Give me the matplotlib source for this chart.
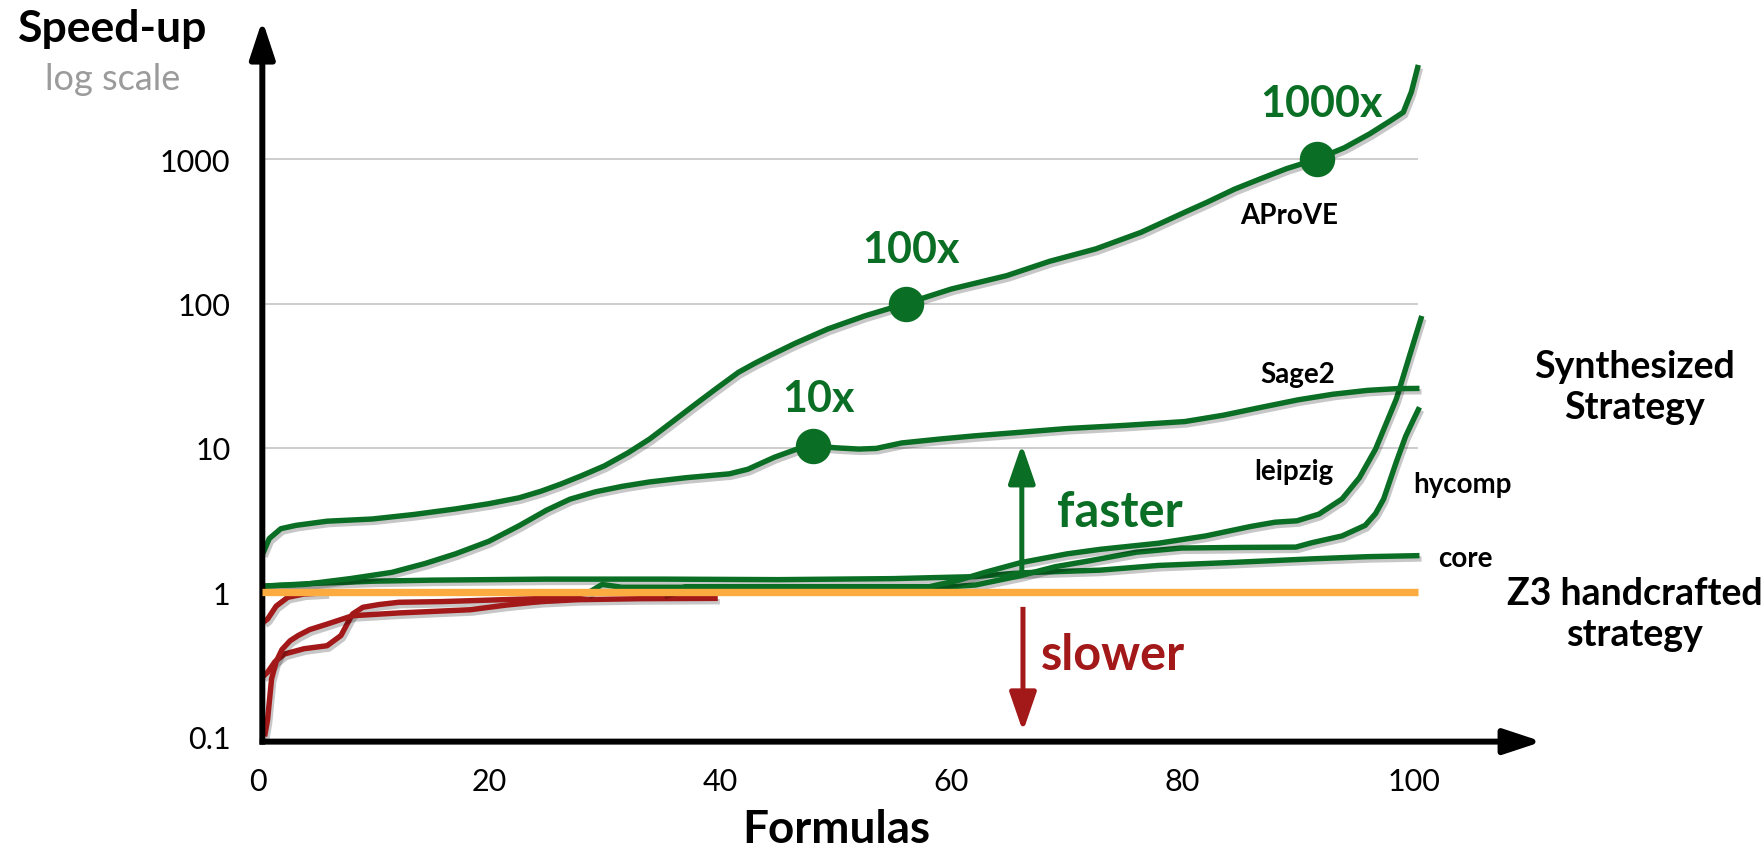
import matplotlib
matplotlib.use("Agg")
import matplotlib.pyplot as plt
import matplotlib.patheffects as pe
from matplotlib.ticker import NullLocator

# ---------------- data ----------------
aprove_x = [0.45, 1.0, 2.0, 3.3, 6.0, 9.9, 13.5, 17.1, 20.0, 22.6, 24.5, 26.2, 28.0, 30.0, 32.0,
            33.9, 35.8, 37.7, 39.6, 41.6, 43.0, 44.3, 46.5, 49.3, 52.5, 56.1, 60.0, 64.8, 68.5,
            72.5, 76.4, 80.2, 82.1, 84.5, 86.7, 89.0, 91.6, 94.0, 96.2, 98.0, 99.1, 99.8, 100.4]
aprove_y = [1.85, 2.35, 2.75, 2.9, 3.1, 3.21, 3.45, 3.77, 4.1, 4.5, 5.0, 5.6, 6.4, 7.5, 9.2,
            11.5, 15.0, 19.6, 25.5, 33.4, 38.5, 43.5, 53.0, 66.5, 82.0, 100.0, 126.0, 156.0, 196.0,
            239.0, 311.0, 429.0, 502.0, 620.0, 729.0, 860.0, 1000.0, 1200.0, 1500.0, 1850.0,
            2115.0, 2930.0, 4500.0]

sage2_x = [0.45, 4.0, 8.0, 11.6, 14.5, 17.1, 20.0, 22.6, 25.0, 27.0, 29.2, 31.5, 33.9, 37.0,
           40.8, 42.4, 44.7, 46.5, 48.0, 50.0, 52.0, 53.5, 55.7, 59.0, 62.0, 65.9, 70.0, 75.0,
           80.2, 83.5, 86.7, 90.0, 93.0, 96.0, 98.5, 100.5]
sage2_y = [1.1, 1.13, 1.24, 1.37, 1.58, 1.84, 2.25, 2.88, 3.7, 4.4, 4.95, 5.4, 5.8, 6.2,
           6.6, 7.1, 8.6, 9.7, 10.3, 10.0, 9.8, 9.9, 10.8, 11.5, 12.1, 12.8, 13.6, 14.3,
           15.2, 16.8, 19.0, 21.5, 23.5, 25.0, 25.7, 25.8]

leipzig_x = [28.5, 29.8, 31.5, 34.4, 40.0, 45.0, 50.0, 55.7, 58.1, 60.5, 62.9, 66.0, 70.0, 72.9,
             77.9, 82.0, 85.9, 88.0, 89.9, 91.8, 93.8, 95.3, 96.7, 98.5, 99.7, 100.7]
leipzig_y = [0.98, 1.13, 1.08, 1.08, 1.08, 1.08, 1.08, 1.08, 1.09, 1.2, 1.37, 1.6, 1.84, 1.98,
             2.18, 2.45, 2.85, 3.05, 3.12, 3.47, 4.42, 6.2, 9.8, 21.8, 45.0, 82.0]

hycomp_x = [35.0, 37.0, 45.0, 55.0, 60.0, 62.1, 66.0, 69.0, 72.0, 76.0, 79.9, 85.0, 89.8, 91.2,
            93.8, 95.8, 96.7, 97.4, 98.5, 99.3, 100.0, 100.5]
hycomp_y = [0.98, 1.09, 1.09, 1.09, 1.09, 1.12, 1.3, 1.5, 1.65, 1.89, 2.02, 2.04, 2.05, 2.2,
            2.45, 2.9, 3.5, 4.42, 8.0, 12.0, 15.8, 19.1]

core_x = [0.45, 5.0, 10.0, 15.0, 25.0, 35.0, 45.0, 55.0, 62.0, 66.0, 72.9, 77.9, 83.9, 91.2, 96.0, 100.5]
core_y = [1.1, 1.15, 1.19, 1.21, 1.23, 1.23, 1.22, 1.24, 1.28, 1.36, 1.42, 1.53, 1.6, 1.7, 1.76, 1.79]

slowA_x = [0.45, 0.85, 1.5, 2.3, 4.0, 6.0, 7.2, 8.2, 9.1, 10.5, 12.2, 16.0, 20.0, 24.0, 26.5, 28.5]
slowA_y = [0.26, 0.278, 0.33, 0.372, 0.405, 0.425, 0.5, 0.705, 0.785, 0.82, 0.85, 0.86, 0.88, 0.9, 0.93, 0.98]
slowB_x = [0.6, 0.85, 1.2, 1.6, 2.1, 2.8, 3.5, 4.5, 6.0, 8.2, 12.2, 18.4, 21.5, 24.5, 27.7, 33.0, 39.8]
slowB_y = [0.1, 0.13, 0.25, 0.33, 0.40, 0.46, 0.5, 0.55, 0.6, 0.686, 0.717, 0.755, 0.813, 0.86, 0.886, 0.9, 0.905]
slowC_x = [0.5, 0.85, 1.6, 2.6, 4.0, 6.0]
slowC_y = [0.62, 0.65, 0.8, 0.92, 0.97, 0.99]

milestone_x = [48.0, 56.1, 91.6]
milestone_y = [10.3, 100.0, 1000.0]
milestone_labels = ["10x", "100x", "1000x"]

ytick_vals = [0.1, 1, 10, 100, 1000]
ytick_labels = ["0.1", "1", "10", "100", "1000"]
xtick_vals = [0, 20, 40, 60, 80, 100]
xtick_labels = ["0", "20", "40", "60", "80", "100"]
grid_vals = [10, 100, 1000]
baseline_value = 1

# ---------------- style ----------------
GREEN = "#0a6e24"
RED = "#a31818"
ORANGE = "#fbab3f"
GRAY = "#9b9b9b"
plt.rcParams["font.family"] = ["Lato", "DejaVu Sans"]

W, H, DPI = 1764, 853, 100
fig = plt.figure(figsize=(W / DPI, H / DPI), dpi=DPI)
L, R, T, B = 150, 1600, 5, 790          # axes box in pixels
X0, XS = 257.7, 11.56                    # pixel of x=0, pixels per unit
Y1, YS = 593.1, 144.3                    # pixel of y=1, pixels per decade
ax = fig.add_axes([L / W, 1 - B / H, (R - L) / W, (B - T) / H])
ax.set_yscale("log")
ax.set_xlim((L - X0) / XS, (R - X0) / XS)
ax.set_ylim(10 ** ((Y1 - B) / YS), 10 ** ((Y1 - T) / YS))
ax.patch.set_alpha(0)

for s in ax.spines.values():
    s.set_visible(False)
ax.spines["left"].set_position(("data", 0.4))
ax.spines["bottom"].set_position(("data", 0.092))

ax.set_yticks(ytick_vals, labels=ytick_labels)
ax.yaxis.set_minor_locator(NullLocator())
ax.set_xticks(xtick_vals, labels=xtick_labels)
ax.tick_params(axis="y", length=0, pad=23, labelsize=22)
ax.tick_params(axis="x", length=0, pad=18, labelsize=22)

# grid lines
ax.hlines(grid_vals, 0.4, 100.4, color="#cdcdcd", lw=1.4, zorder=1)

shadow = [pe.SimpleLineShadow(offset=(1.5, -2.4), shadow_color="black", alpha=0.22), pe.Normal()]
lw = 3.9
for xs, ys in [(slowA_x, slowA_y), (slowB_x, slowB_y), (slowC_x, slowC_y)]:
    ax.plot(xs, ys, color=RED, lw=lw, solid_capstyle="butt", solid_joinstyle="round",
            path_effects=shadow, zorder=2)
for xs, ys in [(core_x, core_y), (hycomp_x, hycomp_y), (leipzig_x, leipzig_y),
               (sage2_x, sage2_y), (aprove_x, aprove_y)]:
    ax.plot(xs, ys, color=GREEN, lw=lw, solid_capstyle="butt", solid_joinstyle="round",
            path_effects=shadow, zorder=3)

# Z3 baseline
ax.plot([0.4, 100.4], [baseline_value, baseline_value], color=ORANGE, lw=5.3,
        solid_capstyle="butt", zorder=4)

# milestone markers
ax.plot(milestone_x, milestone_y, "o", ms=24.5, color=GREEN, zorder=5)
for (lx, ly), lab in zip([(48.5, 18.1), (56.5, 193.0), (92.0, 2000.0)], milestone_labels):
    ax.text(lx, ly, lab, color=GREEN, fontsize=31, fontweight="bold", ha="center", va="baseline")

# axes arrows
ax.annotate("", xy=(111.1, 0.092), xytext=(0.17, 0.092), annotation_clip=False,
            arrowprops=dict(arrowstyle="-|>,head_length=1.15,head_width=0.38", lw=4.3,
                            color="black", mutation_scale=20, shrinkA=0, shrinkB=0,
                            joinstyle="round", capstyle="butt"))
ax.annotate("", xy=(0.4, 9200), xytext=(0.4, 0.0876), annotation_clip=False,
            arrowprops=dict(arrowstyle="-|>,head_length=1.15,head_width=0.38", lw=4.3,
                            color="black", mutation_scale=20, shrinkA=0, shrinkB=0,
                            joinstyle="round", capstyle="butt"))

# faster / slower arrows
ax.annotate("", xy=(66.1, 10.59), xytext=(66.1, 1.37),
            arrowprops=dict(arrowstyle="-|>,head_length=1.19,head_width=0.41", lw=3.6,
                            color=GREEN, mutation_scale=20, shrinkA=0, shrinkB=0,
                            joinstyle="round", capstyle="butt"))
ax.annotate("", xy=(66.2, 0.108), xytext=(66.2, 0.79),
            arrowprops=dict(arrowstyle="-|>,head_length=1.19,head_width=0.41", lw=3.6,
                            color=RED, mutation_scale=20, shrinkA=0, shrinkB=0,
                            joinstyle="round", capstyle="butt"))
ax.text(74.6, 2.88, "faster", color=GREEN, fontsize=35, fontweight="bold", ha="center", va="baseline")
ax.text(74.0, 0.293, "slower", color=RED, fontsize=35, fontweight="bold", ha="center", va="baseline")

# curve labels
for (lx, ly), lab in zip([(89.2, 361.0), (90.0, 28.6), (89.6, 6.08), (104.2, 4.94), (104.5, 1.52)],
                         ["AProVE", "Sage2", "leipzig", "hycomp", "core"]):
    ax.text(lx, ly, lab, color="black", fontsize=20, fontweight="bold", ha="center",
            va="baseline", clip_on=False)

# side labels
ax.text(119.1, 10 ** ((Y1 - 350) / YS), "Synthesized\nStrategy", fontsize=27, fontweight="bold",
        ha="center", va="top", linespacing=1.25, clip_on=False)
ax.text(119.1, 10 ** ((Y1 - 577) / YS), "Z3 handcrafted\nstrategy", fontsize=27, fontweight="bold",
        ha="center", va="top", linespacing=1.25, clip_on=False)

# titles
fig.text(112.5 / W, 1 - 41.7 / H, "Speed-up", fontsize=32, fontweight="bold", ha="center", va="baseline")
fig.text(112.5 / W, 1 - 90 / H, "log scale", fontsize=26, color=GRAY, ha="center", va="baseline")
fig.text(836 / W, 1 - 843 / H, "Formulas", fontsize=33, fontweight="bold", ha="center", va="baseline")

fig.savefig("out.png", dpi=DPI)
